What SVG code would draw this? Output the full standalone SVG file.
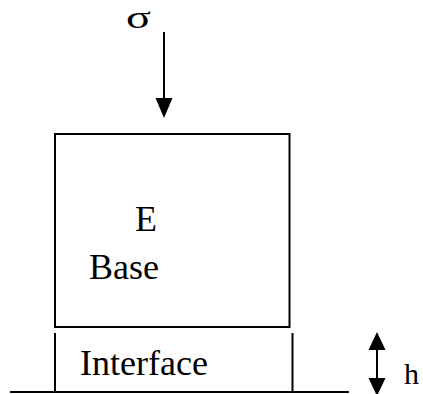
<svg xmlns="http://www.w3.org/2000/svg" width="423" height="394" viewBox="0 0 423 394">
<style>
.ln{stroke:#000;stroke-width:2;fill:none}
.hd{fill:#000;stroke:none}
.t{font-family:"Liberation Serif","Times New Roman",serif;fill:#000}
</style>
<rect width="423" height="394" fill="#fff"/>
<g id="base">
<rect class="ln" x="55" y="134" width="234.5" height="193"/>
<text class="t" x="135" y="231" font-size="36">E</text>
<text class="t" x="89" y="279" font-size="36">Base</text>
</g>
<g id="interface">
<line class="ln" x1="55" y1="333" x2="55" y2="392"/>
<line class="ln" x1="292.5" y1="333" x2="292.5" y2="392"/>
<text class="t" x="80" y="375" font-size="36">Interface</text>
</g>
<g id="ground">
<line class="ln" x1="10" y1="392" x2="349" y2="392"/>
</g>
<g id="load">
<text class="t" transform="translate(126,28) scale(1.45,1)" x="0" y="0" font-size="32">σ</text>
</g>
<g id="height">
<text class="t" x="404" y="384" font-size="30">h</text>
</g>
<g id="connectors">
<line class="ln" x1="164" y1="32" x2="164" y2="100"/>
<polygon class="hd" points="155.5,98 172.5,98 164,118"/>
<line class="ln" x1="377" y1="348" x2="377" y2="380"/>
<polygon class="hd" points="368.5,350 385.5,350 377,332"/>
<polygon class="hd" points="368.5,378 385.5,378 377,396"/>
</g>
</svg>
